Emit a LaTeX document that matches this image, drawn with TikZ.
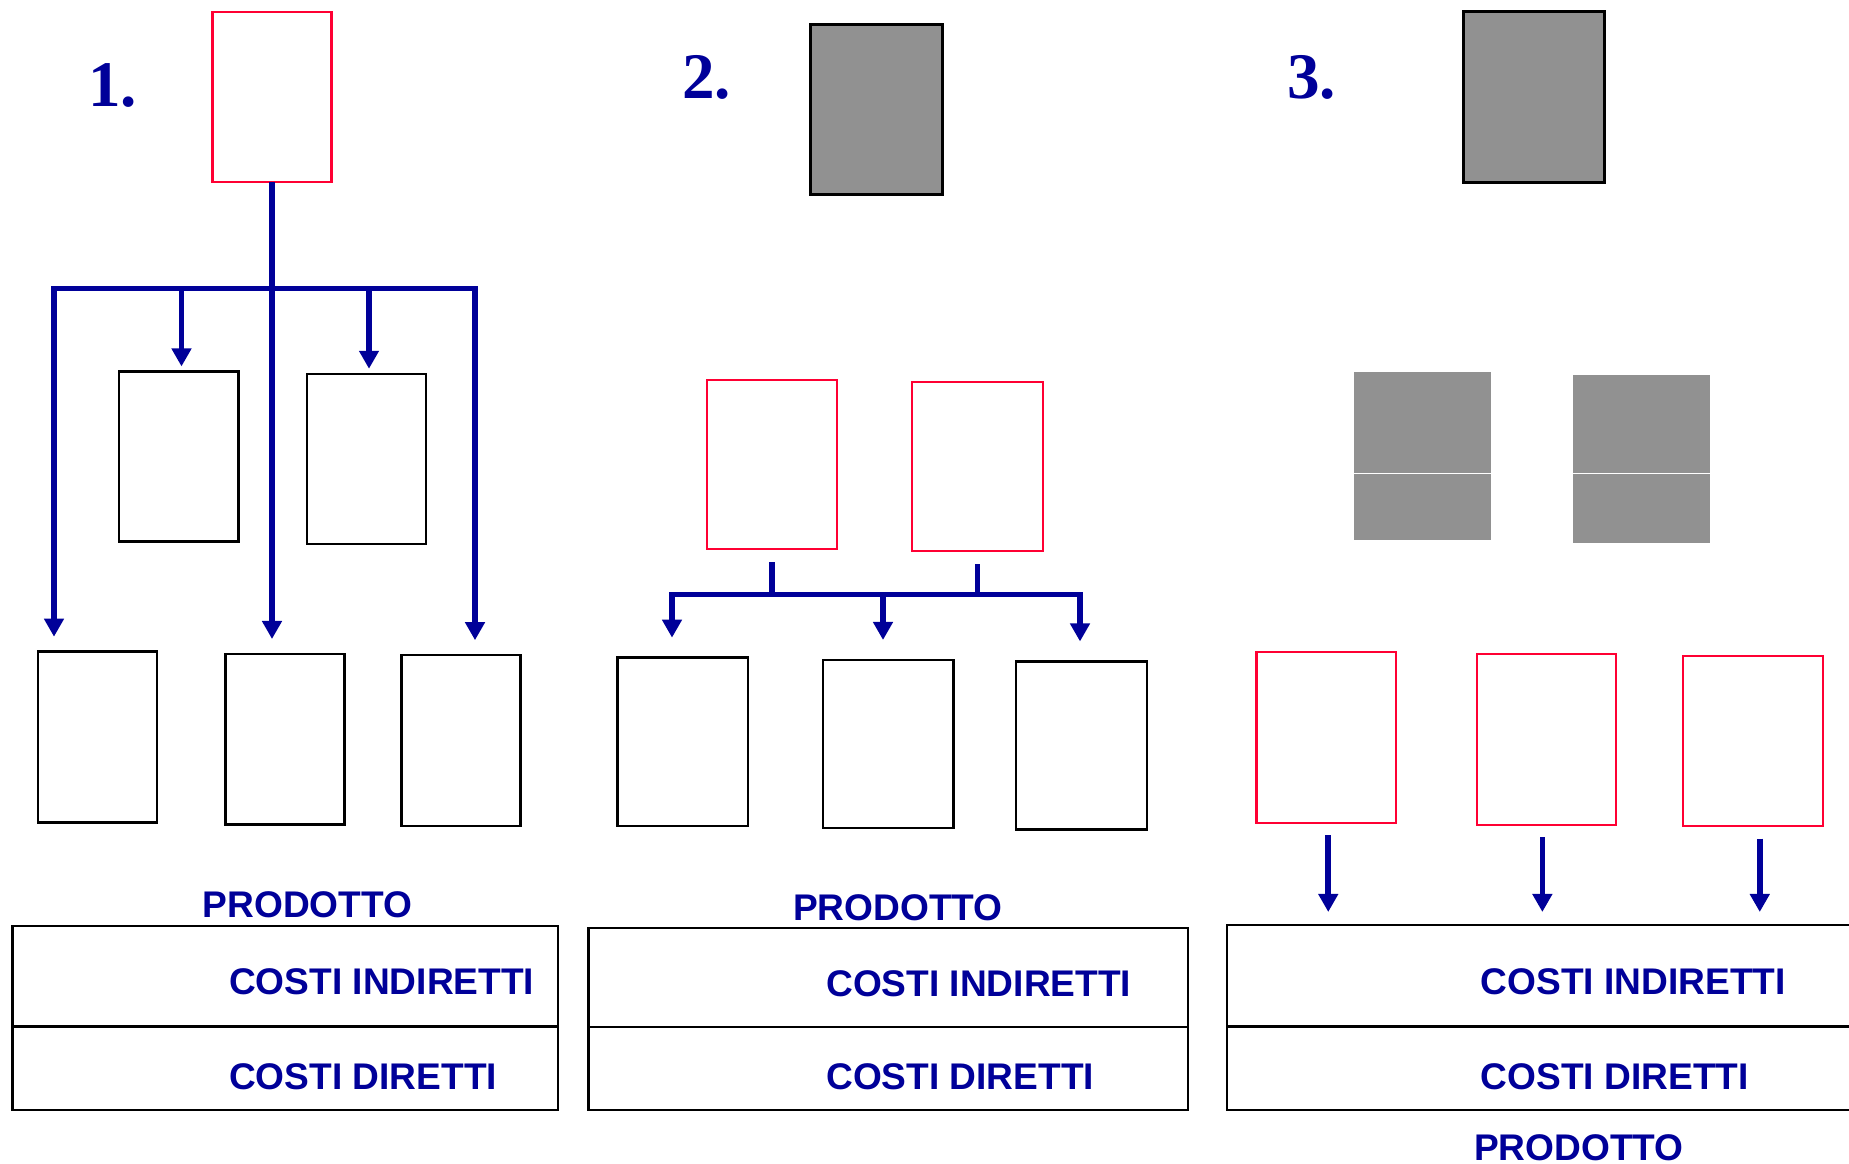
\documentclass[tikz,border=0pt]{standalone}
\usepackage{fontspec}
\setmainfont{Liberation Serif}
\setsansfont{Liberation Sans}
\usetikzlibrary{arrows.meta}
\definecolor{flowblue}{RGB}{0,0,153}
\definecolor{centrered}{RGB}{255,0,51}
\definecolor{boxgray}{RGB}{145,145,145}

\begin{document}
\begin{tikzpicture}[x=0.01cm, y=-0.01cm,
  plainbox/.style={draw=black, line width=0.7pt, inner sep=0pt, outer sep=0pt},
  redbox/.style={draw=centrered, line width=0.6pt, inner sep=0pt, outer sep=0pt},
  graybox/.style={draw=black, fill=boxgray, line width=0.85pt, inner sep=0pt, outer sep=0pt},
  graycell/.style={draw=white, fill=boxgray, line width=0.4pt, inner sep=0pt, outer sep=0pt},
  costcell/.style={draw=black, line width=0.7pt, inner sep=0pt, outer sep=0pt},
  costlabel/.style={flowblue, font=\sffamily\bfseries\fontsize{10.55}{12}\selectfont, inner sep=0pt},
  steplabel/.style={flowblue, font=\rmfamily\bfseries\fontsize{18.5}{20}\selectfont, inner sep=0pt},
  conn/.style={draw=flowblue, line width=1.6pt},
  arr/.style={conn, -{Triangle[length=1.8mm, width=1.9mm]}}
]
\useasboundingbox (0,0) rectangle (1849,1163);
\clip (0,0) rectangle (1849,1163);

% Step 1: one centre, split to all boxes
\node[steplabel, anchor=base] (num1) at (112.5,106.4) {1.};
\node[redbox, minimum width=1.19cm, minimum height=1.70cm] (p1top) at (272,97) {};
\foreach \n/\x/\y in {p1m1/178.75/456.5, p1m2/366.5/458.8} {
    \node[plainbox, minimum width=1.19cm, minimum height=1.70cm] (\n) at (\x,\y) {};
}
\foreach \n/\x/\y in {p1b1/97.5/737, p1b2/285/739.3, p1b3/461/740.5} {
    \node[plainbox, minimum width=1.185cm, minimum height=1.705cm] (\n) at (\x,\y) {};
}
\coordinate (j1L) at (54,288.6);
\coordinate (j1a) at (181.5,288.6);
\coordinate (j1M) at (272,288.6);
\coordinate (j1b) at (369,288.6);
\coordinate (j1R) at (475,288.6);
\draw[conn] (p1top.south) -- (j1M);
\draw[conn, line cap=rect] (j1L) -- (j1R);
\foreach \j/\b in {j1a/p1m1, j1b/p1m2}
    \draw[arr, shorten >=0.5mm] (\j) -- (\j |- \b.north);
\foreach \j/\b in {j1L/p1b1, j1M/p1b2, j1R/p1b3}
    \draw[arr, shorten >=1.5mm] (\j) -- (\j |- \b.north);

\node[costlabel, anchor=base] (prod1) at (307.5,917) {PRODOTTO};
\node[costcell, minimum width=5.454cm, minimum height=1.005cm] (p1ind) at (285.3,976.25) {};
\node[costcell, minimum width=5.454cm, minimum height=0.835cm] (p1dir) at (285.3,1068.25) {};
\node[costlabel, anchor=base west] (ind1) at (228.5,994) {COSTI INDIRETTI};
\node[costlabel, anchor=base west] (dir1) at (228.5,1089) {COSTI DIRETTI};

% Step 2: two centres, then the products
\node[steplabel, anchor=base] (num2) at (706.5,98.7) {2.};
\node[graybox, minimum width=1.31cm, minimum height=1.69cm] (p2top) at (876.5,109.5) {};
\foreach \n/\x/\y in {p2r1/772/464.5, p2r2/977.5/466.5} {
    \node[redbox, minimum width=1.305cm, minimum height=1.69cm] (\n) at (\x,\y) {};
}
\foreach \n/\x/\y in {p2b1/682.6/741.7, p2b2/888.3/744, p2b3/1081.5/745.5} {
    \node[plainbox, minimum width=1.305cm, minimum height=1.68cm] (\n) at (\x,\y) {};
}
\coordinate (j2L) at (672,594.6);
\coordinate (j2M) at (883,594.6);
\coordinate (j2R) at (1080,594.6);
\draw[conn, line cap=rect] (j2L) -- (j2R);
\foreach \b in {p2r1, p2r2}
    \draw[conn, shorten <=1.3mm] (\b.south) -- (\b.south |- j2M);
\foreach \j/\b in {j2L/p2b1, j2M/p2b2, j2R/p2b3}
    \draw[arr, shorten >=2mm] (\j) -- (\j |- \b.north);

\node[costlabel, anchor=base] (prod2) at (897.8,920.4) {PRODOTTO};
\node[costcell, minimum width=5.994cm, minimum height=0.99cm] (p2ind) at (888.3,977.5) {};
\node[costcell, minimum width=5.994cm, minimum height=0.83cm] (p2dir) at (888.3,1068.5) {};
\node[costlabel, anchor=base west] (ind2) at (825.5,996.5) {COSTI INDIRETTI};
\node[costlabel, anchor=base west] (dir2) at (825.5,1089) {COSTI DIRETTI};

% Step 3: direct to the product
\node[steplabel, anchor=base] (num3) at (1311.5,98.7) {3.};
\node[graybox, minimum width=1.40cm, minimum height=1.705cm] (p3top) at (1534,97.25) {};
\node[graycell, minimum width=1.39cm, minimum height=1.024cm] (p3g1a) at (1422.5,422.2) {};
\node[graycell, minimum width=1.39cm, minimum height=0.676cm] (p3g1b) at (1422.5,507.2) {};
\node[graycell, minimum width=1.386cm, minimum height=0.994cm] (p3g2a) at (1641.3,423.7) {};
\node[graycell, minimum width=1.386cm, minimum height=0.70cm] (p3g2b) at (1641.3,508.4) {};
\foreach \n/\x/\y in {p3r1/1326.25/737.3, p3r2/1546.35/739.4, p3r3/1752.75/740.85} {
    \node[redbox, minimum width=1.395cm, minimum height=1.705cm] (\n) at (\x,\y) {};
}
\node[costcell, minimum width=6.53cm, minimum height=1.016cm] (p3ind) at (1553.5,975.8) {};
\node[costcell, minimum width=6.53cm, minimum height=0.834cm] (p3dir) at (1553.5,1068.3) {};
\foreach \b/\dx in {p3r1/0.02, p3r2/-0.04, p3r3/0.07}
    \draw[arr, shorten <=1.25mm, shorten >=1.3mm] ([xshift=\dx cm]\b.south) -- ([xshift=\dx cm]\b.south |- p3ind.north);
\node[costlabel, anchor=base west] (ind3) at (1480,994) {COSTI INDIRETTI};
\node[costlabel, anchor=base west] (dir3) at (1480,1089) {COSTI DIRETTI};
\node[costlabel, anchor=base] (prod3) at (1579,1160) {PRODOTTO};
\end{tikzpicture}
\end{document}
